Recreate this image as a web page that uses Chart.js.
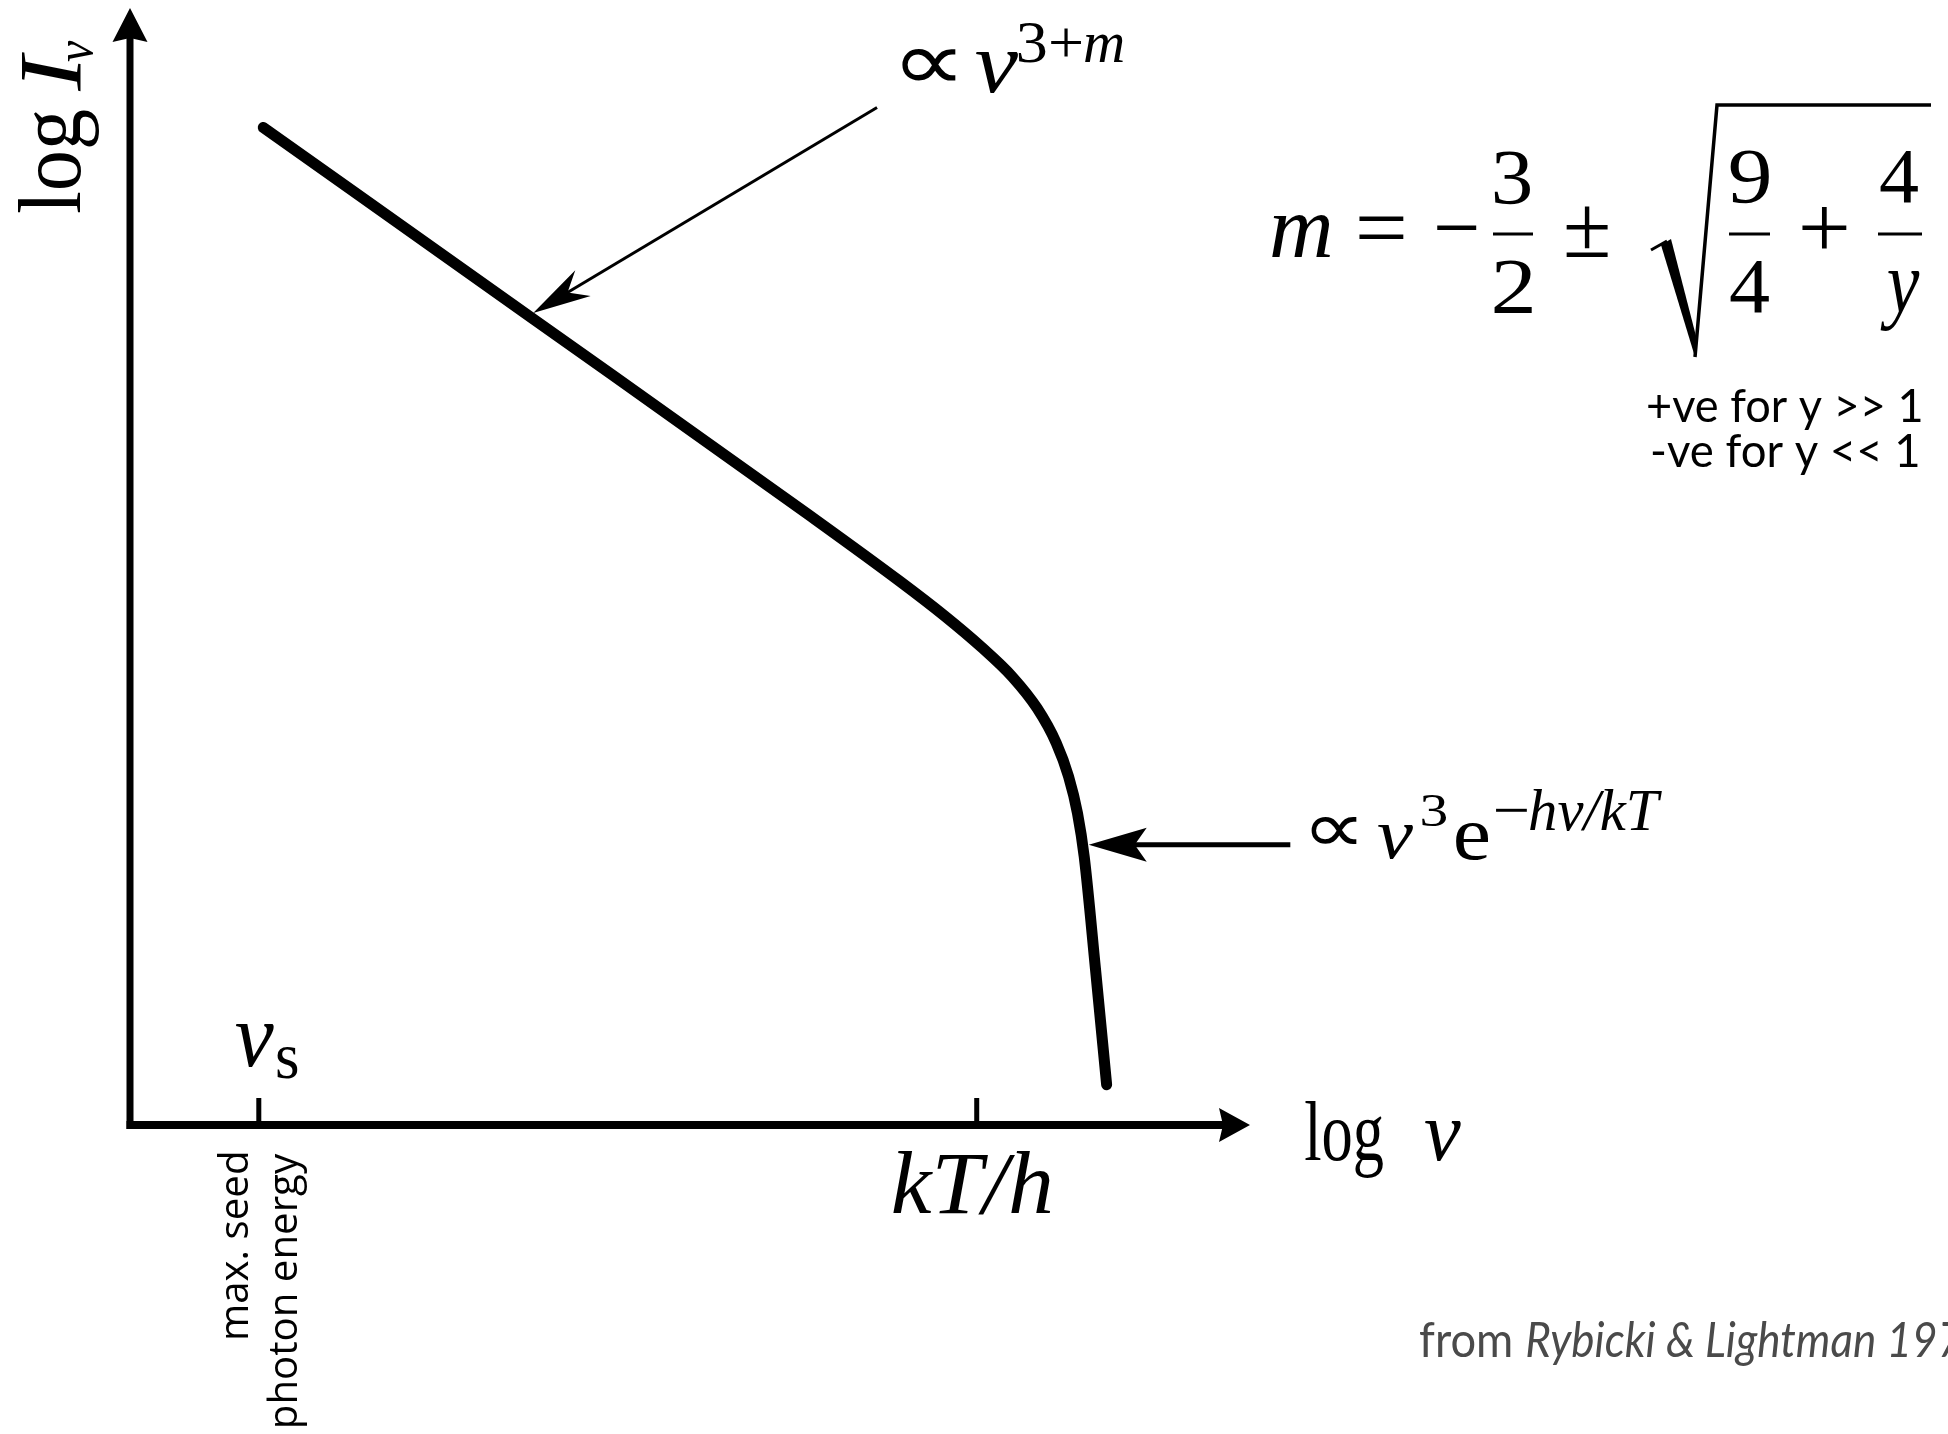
<!DOCTYPE html>
<html>
<head>
<meta charset="utf-8">
<title>Comptonized spectrum</title>
<script src="https://cdn.jsdelivr.net/npm/chart.js@4.4.1/dist/chart.umd.min.js"></script>
<style>
  html, body { margin: 0; padding: 0; background: #fff; overflow: hidden; }
  canvas { display: block; }
</style>
</head>
<body>
<canvas id="spectrum" width="1948" height="1434"></canvas>
<script>
// Schematic spectrum of repeated Compton scattering: log I_nu against log nu,
// both in arbitrary units (0..10 on each axis).
const logNu = [1.19, 3.61, 6.05, 6.87, 7.27, 7.60, 7.88, 8.10, 8.27, 8.38, 8.46, 8.52, 8.62, 8.72];
const logI  = [8.93, 7.21, 5.47, 4.87, 4.56, 4.28, 4.01, 3.73, 3.42, 3.12, 2.79, 2.40, 1.40, 0.36];

const xRange = [0, 10];
const yRange = [0, 10];

// marked frequencies on the log nu axis: seed photons and kT/h
const nuSeed = 1.15;
const nuThermal = 7.56;

// annotation arrows, [from, to] in data units
const powerLawArrow = [[6.67, 9.11], [3.60, 7.27]];
const cutoffArrow = [[10.36, 2.51], [8.56, 2.51]];

const SERIF = '"Liberation Serif", "Times New Roman", serif';
const SANS = 'Lato, "Open Sans", sans-serif';
const SANS2 = '"Open Sans", Lato, sans-serif';

function inkBox(ctx, s) {
  const m = ctx.measureText(s);
  return { left: m.actualBoundingBoxLeft, width: m.actualBoundingBoxLeft + m.actualBoundingBoxRight };
}

// Draw text with its ink starting at x (or ending there / centred on it),
// squeezed or stretched along the line to a given ink width.
function put(ctx, s, x, y, font, o = {}) {
  ctx.save();
  ctx.font = font;
  ctx.fillStyle = o.color || '#000';
  ctx.textAlign = 'left';
  ctx.textBaseline = 'alphabetic';
  const ink = inkBox(ctx, s);
  const sx = o.sx || (o.w ? o.w / ink.width : 1);
  const w = ink.width * sx;
  let x0 = 0;
  if (o.align === 'right') x0 = -w;
  else if (o.align === 'center') x0 = -w / 2;
  ctx.translate(x, y);
  if (o.rot) ctx.rotate(o.rot);
  ctx.scale(sx, 1);
  ctx.fillText(s, x0 / sx + ink.left, 0);
  ctx.restore();
  return sx;
}

// straight shaft with a swept-back filled head
function arrow(ctx, x1, y1, x2, y2, lw, len, half, notch) {
  const a = Math.atan2(y2 - y1, x2 - x1);
  const c = Math.cos(a), s = Math.sin(a);
  ctx.save();
  ctx.strokeStyle = '#000';
  ctx.fillStyle = '#000';
  ctx.lineWidth = lw;
  ctx.lineCap = 'butt';
  if (lw > 0) {
    ctx.beginPath();
    ctx.moveTo(x1, y1);
    ctx.lineTo(x2 - c * (notch - 2), y2 - s * (notch - 2));
    ctx.stroke();
  }
  ctx.beginPath();
  ctx.moveTo(x2, y2);
  ctx.lineTo(x2 - c * len - s * half, y2 - s * len + c * half);
  ctx.lineTo(x2 - c * notch, y2 - s * notch);
  ctx.lineTo(x2 - c * len + s * half, y2 - s * len - c * half);
  ctx.closePath();
  ctx.fill();
  ctx.restore();
}

const sketchAxes = {
  id: 'sketchAxes',
  afterDraw(chart) {
    const { ctx, scales: { x, y } } = chart;
    const px = v => x.getPixelForValue(v);
    const py = v => y.getPixelForValue(v);
    const ox = px(xRange[0]), oy = py(yRange[0]);
    const xEnd = px(xRange[1]), yEnd = py(yRange[1]);

    ctx.save();
    ctx.strokeStyle = '#000';
    ctx.lineCap = 'butt';
    // vertical axis
    ctx.lineWidth = 7;
    ctx.beginPath();
    ctx.moveTo(ox, oy + 4);
    ctx.lineTo(ox, yEnd + 30);
    ctx.stroke();
    // horizontal axis
    ctx.lineWidth = 8;
    ctx.beginPath();
    ctx.moveTo(ox - 3.5, oy);
    ctx.lineTo(xEnd - 26, oy);
    ctx.stroke();
    ctx.restore();
    arrow(ctx, ox, yEnd + 40, ox, yEnd, 0, 34, 17.5, 30);
    arrow(ctx, xEnd - 40, oy, xEnd, oy, 0, 31, 17, 27);

    // tick marks
    ctx.save();
    ctx.lineWidth = 5;
    ctx.beginPath();
    [nuSeed, nuThermal].forEach(v => {
      ctx.moveTo(px(v), oy);
      ctx.lineTo(px(v), oy - 27);
    });
    ctx.stroke();
    ctx.restore();

    // pointer arrows onto the curve
    arrow(ctx, px(powerLawArrow[0][0]), py(powerLawArrow[0][1]),
      px(powerLawArrow[1][0]), py(powerLawArrow[1][1]), 3, 58, 15, 40);
    arrow(ctx, px(cutoffArrow[0][0]), py(cutoffArrow[0][1]),
      px(cutoffArrow[1][0]), py(cutoffArrow[1][1]), 5, 58, 17, 46);

    const it = (n) => `italic ${n}px ${SERIF}`;
    const rm = (n) => `${n}px ${SERIF}`;
    const up = -Math.PI / 2;

    // axis titles
    put(ctx, 'log', 80, 213, rm(88), { rot: up, w: 103 });
    put(ctx, 'I', 80, 92, it(88), { rot: up, w: 40 });
    put(ctx, 'ν', 92, 62, it(52), { rot: up, w: 22 });
    put(ctx, 'log', 1305, 1160, rm(85), { w: 78 });
    put(ctx, 'ν', 1425, 1160, it(85), { w: 36 });

    // tick labels
    const s0 = px(nuSeed);
    put(ctx, 'ν', s0 - 23, 1066, it(90), { w: 38 });
    put(ctx, 's', s0 + 18, 1078, rm(66), { w: 21 });
    put(ctx, 'kT/h', px(nuThermal) - 5, 1213, it(88), { w: 158, align: 'center' });
    const sx = put(ctx, 'max. seed', s0 - 11, 1153, `40px ${SANS2}`, { rot: up, w: 185, align: 'right' });
    put(ctx, 'photon energy', s0 + 38, 1153, `40px ${SANS2}`, { rot: up, sx, align: 'right' });

    // power-law label
    put(ctx, '∝', 902, 90, rm(84), { w: 53 });
    put(ctx, 'ν', 976, 92, it(86), { w: 43 });
    put(ctx, '3+', 1018, 62, rm(60), { w: 63 });
    put(ctx, 'm', 1085, 62, it(60), { w: 38 });

    // Wien cut-off label
    put(ctx, '∝', 1311, 852, rm(72), { w: 46 });
    put(ctx, 'ν', 1377, 858, it(72), { w: 36 });
    put(ctx, '3', 1422, 826, rm(46), { w: 25 });
    put(ctx, 'e', 1455, 859, rm(76), { w: 34 });
    put(ctx, '−', 1495, 830, rm(60), { w: 32 });
    put(ctx, 'hν/kT', 1530, 830, it(60), { w: 132 });

    // spectral index formula
    put(ctx, 'm', 1272, 257, it(88), { w: 58 });
    put(ctx, '=', 1359, 257, rm(88), { w: 45 });
    put(ctx, '−', 1437, 257, rm(88), { w: 40 });
    put(ctx, '3', 1494, 203, rm(78), { w: 36 });
    put(ctx, '2', 1494, 312, rm(78), { w: 38 });
    put(ctx, '±', 1566, 257, rm(88), { w: 42 });
    put(ctx, '9', 1730, 202, rm(78), { w: 39 });
    put(ctx, '4', 1730, 312, rm(78), { w: 39 });
    put(ctx, '+', 1802, 257, rm(88), { w: 45 });
    put(ctx, '4', 1880, 202, rm(78), { w: 38 });
    put(ctx, 'y', 1880, 312, it(88), { w: 40 });

    ctx.save();
    ctx.strokeStyle = '#000';
    ctx.fillStyle = '#000';
    ctx.lineWidth = 3;
    ctx.beginPath();
    [[1493, 1533], [1729, 1770], [1878, 1922]].forEach(([a, b]) => {
      ctx.moveTo(a, 234);
      ctx.lineTo(b, 234);
    });
    ctx.stroke();
    // radical sign
    ctx.beginPath();
    ctx.moveTo(1651, 250);
    ctx.lineTo(1667, 241);
    ctx.stroke();
    ctx.beginPath();
    ctx.moveTo(1661, 245);
    ctx.lineTo(1671, 239);
    ctx.lineTo(1697, 340);
    ctx.lineTo(1695, 357);
    ctx.closePath();
    ctx.fill();
    ctx.lineWidth = 3.5;
    ctx.beginPath();
    ctx.moveTo(1695, 357);
    ctx.lineTo(1717, 105);
    ctx.lineTo(1931, 105);
    ctx.stroke();
    ctx.restore();

    put(ctx, '+ve for y >> 1', 1648, 422, `46px ${SANS}`, { w: 273 });
    put(ctx, '-ve for y << 1', 1652, 467, `46px ${SANS}`, { w: 266 });

    // source note
    const grey = '#4a4a4a';
    put(ctx, 'from', 1420, 1357, `48px ${SANS}`, { w: 91, color: grey });
    ctx.font = `italic 48px ${SANS}`;
    const rl = inkBox(ctx, 'Rybicki & Lightman').width;
    put(ctx, 'Rybicki & Lightman 1979', 1527, 1357, `italic 48px ${SANS}`, { sx: 347 / rl, color: grey });
  }
};

new Chart(document.getElementById('spectrum'), {
  type: 'line',
  data: {
    datasets: [{
      data: logNu.map((v, i) => ({ x: v, y: logI[i] })),
      borderColor: '#000',
      borderWidth: 11,
      borderCapStyle: 'round',
      borderJoinStyle: 'round',
      pointRadius: 0,
      cubicInterpolationMode: 'monotone',
      fill: false
    }]
  },
  options: {
    responsive: false,
    animation: false,
    devicePixelRatio: 1,
    layout: { padding: { left: 130, right: 698, top: 8, bottom: 309 } },
    scales: {
      x: { type: 'linear', min: xRange[0], max: xRange[1], display: false },
      y: { type: 'linear', min: yRange[0], max: yRange[1], display: false }
    },
    plugins: { legend: { display: false }, tooltip: { enabled: false } }
  },
  plugins: [sketchAxes]
});
</script>
</body>
</html>
